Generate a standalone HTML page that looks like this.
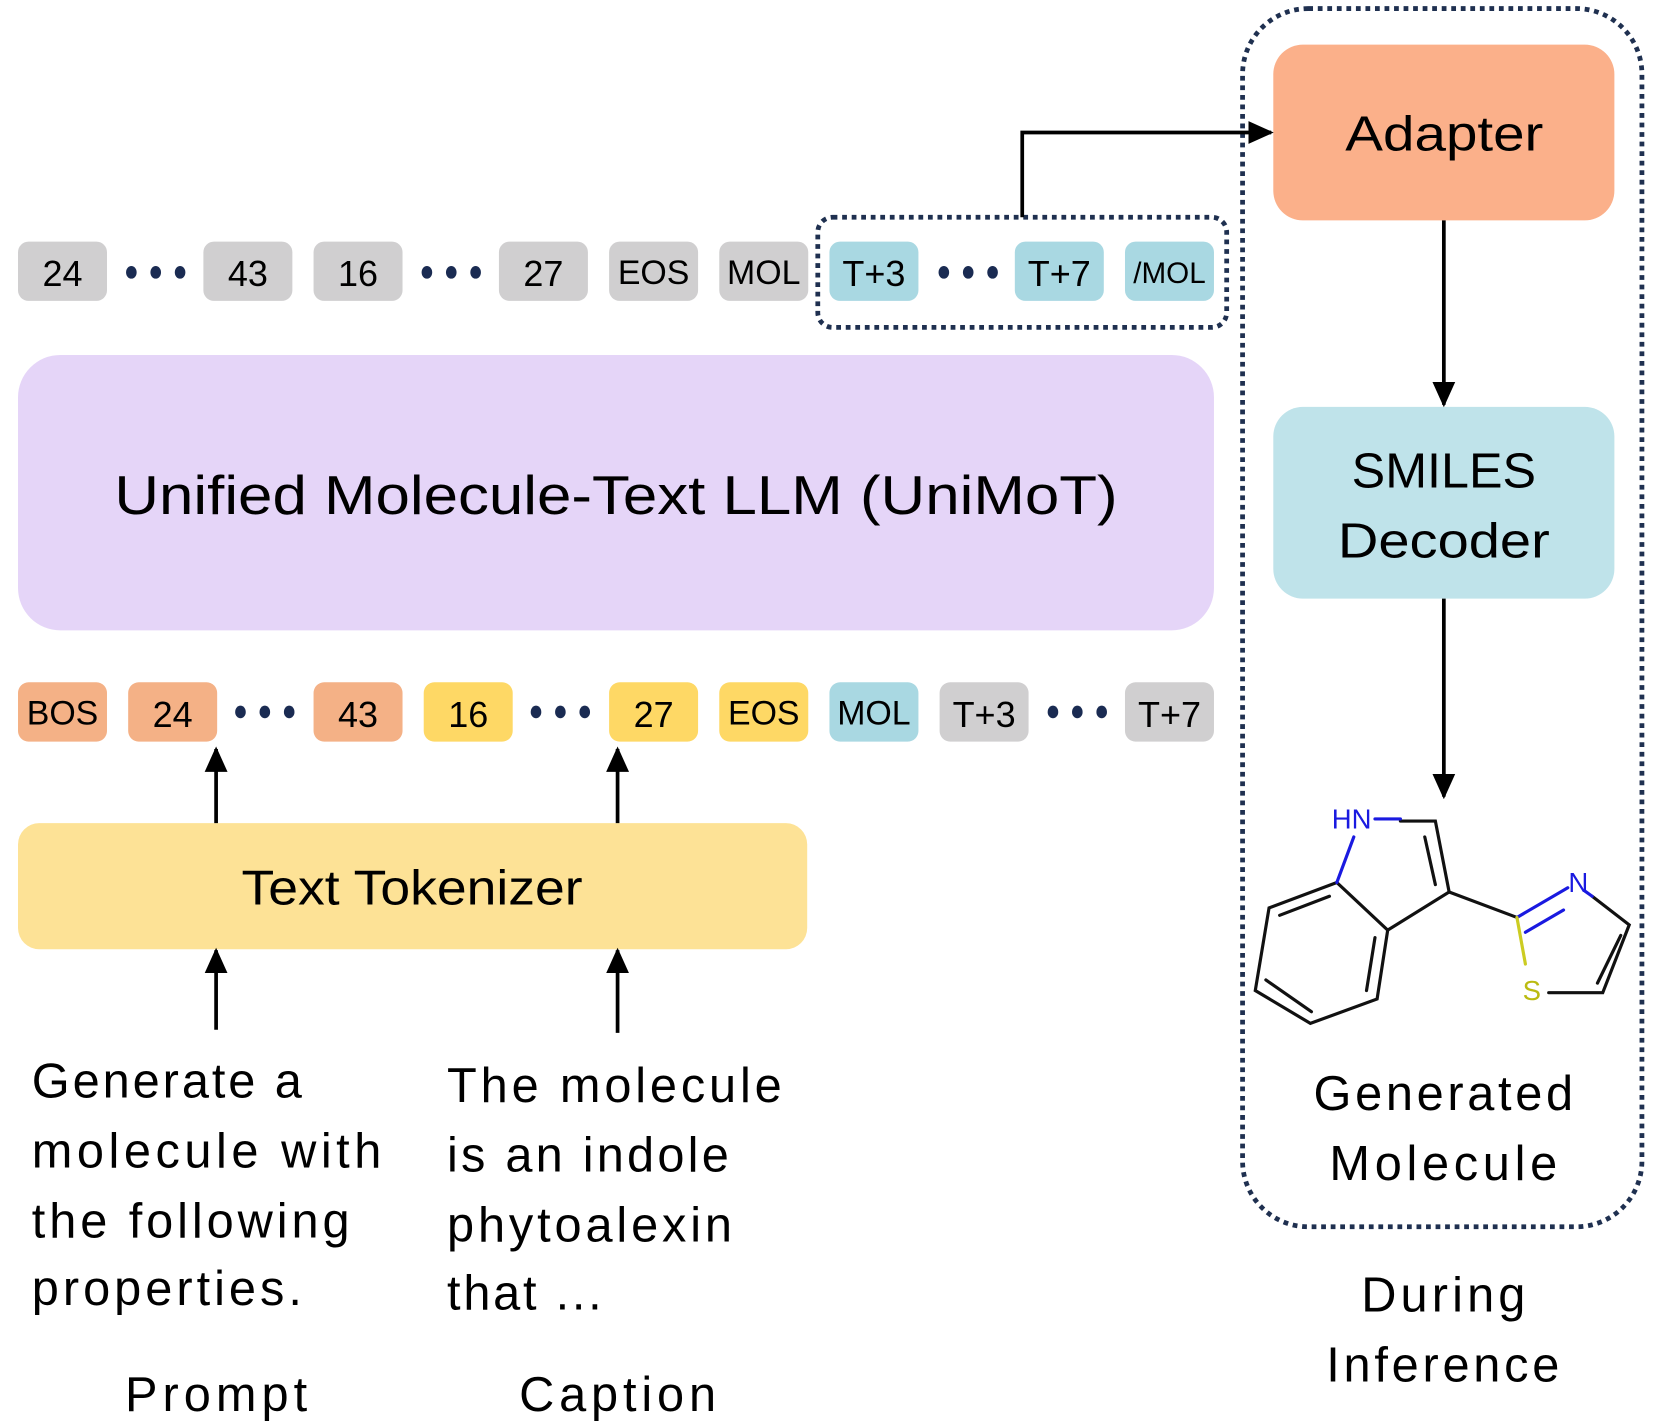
<!DOCTYPE html>
<html><head><meta charset="utf-8"><style>html,body{margin:0;padding:0;background:#fff}svg{display:block}</style></head><body>
<svg width="1661" height="1426" viewBox="0 0 1568 1346" xmlns="http://www.w3.org/2000/svg" font-family="Liberation Sans, DejaVu Sans, sans-serif">
<defs>
<marker id="a" viewBox="0 0 10 10" refX="9" refY="5" markerWidth="24" markerHeight="24" markerUnits="userSpaceOnUse" orient="auto"><path d="M0,0.5 L10,5 L0,9.5 z" fill="#000"/></marker></defs>
<g font-size="34" text-anchor="middle" fill="#000">
<rect x="17" y="228" width="84" height="56" rx="10" fill="#d0cfd0"/><text x="59" y="270">24</text>
<rect x="192" y="228" width="84" height="56" rx="10" fill="#d0cfd0"/><text x="234" y="270">43</text>
<rect x="296" y="228" width="84" height="56" rx="10" fill="#d0cfd0"/><text x="338" y="270">16</text>
<rect x="471" y="228" width="84" height="56" rx="10" fill="#d0cfd0"/><text x="513" y="270">27</text>
<rect x="575" y="228" width="84" height="56" rx="10" fill="#d0cfd0"/><text x="617" y="268" font-size="32">EOS</text>
<rect x="679" y="228" width="84" height="56" rx="10" fill="#d0cfd0"/><text x="721" y="268" font-size="32">MOL</text>
<rect x="783" y="228" width="84" height="56" rx="10" fill="#a9d8e2"/><text x="825" y="270">T+3</text>
<rect x="958" y="228" width="84" height="56" rx="10" fill="#a9d8e2"/><text x="1000" y="270">T+7</text>
<rect x="1062" y="228" width="84" height="56" rx="10" fill="#a9d8e2"/><text x="1104" y="267" font-size="28">/MOL</text>
<rect x="17" y="644" width="84" height="56" rx="10" fill="#f4b186"/><text x="59" y="684" font-size="32">BOS</text>
<rect x="121" y="644" width="84" height="56" rx="10" fill="#f4b186"/><text x="163" y="686">24</text>
<rect x="296" y="644" width="84" height="56" rx="10" fill="#f4b186"/><text x="338" y="686">43</text>
<rect x="400" y="644" width="84" height="56" rx="10" fill="#fed865"/><text x="442" y="686">16</text>
<rect x="575" y="644" width="84" height="56" rx="10" fill="#fed865"/><text x="617" y="686">27</text>
<rect x="679" y="644" width="84" height="56" rx="10" fill="#fed865"/><text x="721" y="684" font-size="32">EOS</text>
<rect x="783" y="644" width="84" height="56" rx="10" fill="#a9d8e2"/><text x="825" y="684" font-size="32">MOL</text>
<rect x="887" y="644" width="84" height="56" rx="10" fill="#d0cfd0"/><text x="929" y="686">T+3</text>
<rect x="1062" y="644" width="84" height="56" rx="10" fill="#d0cfd0"/><text x="1104" y="686">T+7</text>
</g>
<g fill="#1a2b52">
<ellipse cx="124" cy="257" rx="5" ry="6"/><ellipse cx="147" cy="257" rx="5" ry="6"/><ellipse cx="170" cy="257" rx="5" ry="6"/>
<ellipse cx="403" cy="257" rx="5" ry="6"/><ellipse cx="426" cy="257" rx="5" ry="6"/><ellipse cx="449" cy="257" rx="5" ry="6"/>
<ellipse cx="891" cy="257" rx="5" ry="6"/><ellipse cx="914" cy="257" rx="5" ry="6"/><ellipse cx="937" cy="257" rx="5" ry="6"/>
<ellipse cx="227" cy="672" rx="5" ry="6"/><ellipse cx="250" cy="672" rx="5" ry="6"/><ellipse cx="273" cy="672" rx="5" ry="6"/>
<ellipse cx="506" cy="672" rx="5" ry="6"/><ellipse cx="529" cy="672" rx="5" ry="6"/><ellipse cx="552" cy="672" rx="5" ry="6"/>
<ellipse cx="994" cy="672" rx="5" ry="6"/><ellipse cx="1017" cy="672" rx="5" ry="6"/><ellipse cx="1040" cy="672" rx="5" ry="6"/>
</g>
<rect x="772" y="205" width="386" height="104" rx="14" fill="none" stroke="#1f3050" stroke-width="4.5" stroke-dasharray="4.5 4.5"/>
<rect x="1173" y="8" width="377" height="1150" rx="62" fill="none" stroke="#1f3050" stroke-width="4.5" stroke-dasharray="4.5 4.5"/>
<rect x="17" y="335" width="1129" height="260" rx="40" fill="#e5d5f8"/>
<text x="108" y="485" font-size="52" textLength="947" lengthAdjust="spacingAndGlyphs">Unified Molecule-Text LLM (UniMoT)</text>
<rect x="17" y="777" width="745" height="119" rx="20" fill="#fde296"/>
<text x="228" y="854" font-size="46" textLength="322" lengthAdjust="spacingAndGlyphs">Text Tokenizer</text>
<rect x="1202" y="42" width="322" height="166" rx="28" fill="#fbb08a"/>
<text x="1270" y="142" font-size="46" textLength="187" lengthAdjust="spacingAndGlyphs">Adapter</text>
<rect x="1202" y="384" width="322" height="181" rx="28" fill="#bfe3ea"/>
<text x="1276" y="460" font-size="46" textLength="174" lengthAdjust="spacingAndGlyphs">SMILES</text>
<text x="1263" y="526" font-size="46" textLength="200" lengthAdjust="spacingAndGlyphs">Decoder</text>
<g stroke="#000" stroke-width="3.5" fill="none">
<path d="M965,205 V125 H1200" marker-end="url(#a)"/>
<path d="M1363,208 V382" marker-end="url(#a)"/>
<path d="M1363,565 V752" marker-end="url(#a)"/>
<path d="M204,777 V707" marker-end="url(#a)"/>
<path d="M583,777 V707" marker-end="url(#a)"/>
<path d="M204,972 V897" marker-end="url(#a)"/>
<path d="M583,975 V897" marker-end="url(#a)"/>
</g>
<g stroke-width="3" fill="none" stroke="#111" stroke-linecap="round">
<path d="M1322,775 H1355 L1368,842 L1310,878 L1262,833"/>
<path d="M1345,790 L1355,835"/>
<path d="M1262,833 L1198,857 L1185,935 L1237,966 L1300,943 L1310,878"/>
<path d="M1255,846 L1208,864 M1195,925 L1238,955 M1298,885 L1290,935"/>
<path d="M1368,842 L1432,866"/>
<path d="M1503,846 L1538,873 L1513,937 H1462"/>
<path d="M1530,883 L1508,928"/>
<path stroke="#1a1ae0" d="M1298,773 H1322 M1278,790 L1262,833 M1432,866 L1480,838 M1440,880 L1476,859 M1503,846 L1496,841"/>
<path stroke="#cccc22" d="M1432,866 L1440,910"/>
</g>
<text x="1276" y="782" font-size="26" fill="#1a1ae0" text-anchor="middle">HN</text>
<text x="1490" y="842" font-size="26" fill="#1a1ae0" text-anchor="middle">N</text>
<text x="1446" y="944" font-size="26" fill="#bbbb11" text-anchor="middle">S</text>
<g font-size="46" fill="#000" lengthAdjust="spacingAndGlyphs">
<text x="30" y="1036" textLength="255">Generate a</text>
<text x="30" y="1102" textLength="330">molecule with</text>
<text x="30" y="1168" textLength="300">the following</text>
<text x="30" y="1232" textLength="255">properties.</text>
<text x="422" y="1040" textLength="316">The molecule</text>
<text x="422" y="1106" textLength="266">is an indole</text>
<text x="422" y="1172" textLength="269">phytoalexin</text>
<text x="422" y="1236" textLength="146">that ...</text>
<text x="118" y="1332" textLength="172">Prompt</text>
<text x="490" y="1332" textLength="186">Caption</text>
<text x="1240" y="1048" textLength="245">Generated</text>
<text x="1255" y="1114" textLength="215">Molecule</text>
<text x="1285" y="1238" textLength="155">During</text>
<text x="1252" y="1304" textLength="220">Inference</text>
</g>
</svg>
</body></html>
